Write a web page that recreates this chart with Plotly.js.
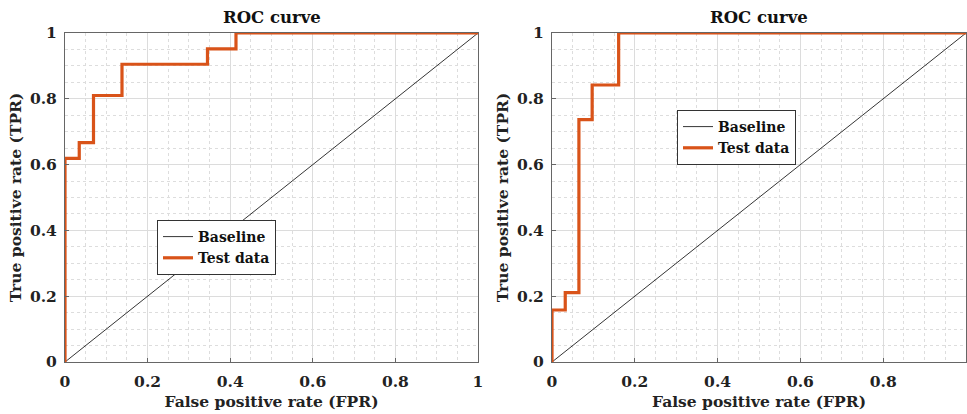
<!DOCTYPE html>
<html>
<head>
<meta charset="utf-8">
<script src="https://cdn.plot.ly/plotly-3.0.1.min.js"></script>
<style>html,body{margin:0;padding:0;background:#fff;}#chart{width:967px;height:414px;}</style>
</head>
<body>
<div id="chart"></div>
<script>
// Baseline (chance line)
const baselineX = [0, 1];
const baselineY = [0, 1];

// Left panel ROC (FPR, TPR) step vertices
const leftFPR = [0, 0, 0.0345, 0.0345, 0.069, 0.069, 0.138, 0.138, 0.345, 0.345, 0.414, 0.414, 1];
const leftTPR = [0, 0.619, 0.619, 0.667, 0.667, 0.810, 0.810, 0.905, 0.905, 0.952, 0.952, 1, 1];

// Right panel ROC (FPR, TPR) step vertices
const rightFPR = [0, 0, 0.032, 0.032, 0.065, 0.065, 0.097, 0.097, 0.161, 0.161, 1];
const rightTPR = [0, 0.158, 0.158, 0.211, 0.211, 0.737, 0.737, 0.842, 0.842, 1, 1];

const tickVals = [0, 0.2, 0.4, 0.6, 0.8, 1];
const tickText = ['0', '0.2', '0.4', '0.6', '0.8', '1'];

const FONT = 'DejaVu Serif';
const orange = '#D95319';

const traces = [
  {x: baselineX, y: baselineY, mode: 'lines', name: 'Baseline', line: {color: '#000', width: 0.8}, xaxis: 'x', yaxis: 'y', legend: 'legend'},
  {x: leftFPR, y: leftTPR, mode: 'lines', name: 'Test data', line: {color: orange, width: 3.2}, xaxis: 'x', yaxis: 'y', legend: 'legend'},
  {x: baselineX, y: baselineY, mode: 'lines', name: 'Baseline', line: {color: '#000', width: 0.8}, xaxis: 'x2', yaxis: 'y2', legend: 'legend2'},
  {x: rightFPR, y: rightTPR, mode: 'lines', name: 'Test data', line: {color: orange, width: 3.2}, xaxis: 'x2', yaxis: 'y2', legend: 'legend2'}
];

const W = 967, H = 414;
const yDom = [1 - 362/H, 1 - 33/H];

function xAx(dom) {
  return {
    domain: dom, range: [0, 1], tickvals: tickVals, ticktext: tickText,
    showline: true, mirror: true, linecolor: '#666', linewidth: 1,
    ticks: 'inside', ticklen: 4, tickcolor: '#666', ticklabelstandoff: 5,
    showgrid: true, gridcolor: '#dcdcdc', gridwidth: 1, zeroline: false,
    minor: {dtick: 0.05, showgrid: true, gridcolor: '#dddddd', griddash: 'dot', gridwidth: 1},
    tickfont: {family: FONT, size: 15.5, color: '#222', weight: 'bold'},
    title: {text: '<b>False positive rate (FPR)</b>', font: {family: FONT, size: 15.5, color: '#222'}, standoff: 6},
    fixedrange: true
  };
}
function yAx(dom, anchor) {
  return {
    domain: dom, range: [0, 1], tickvals: tickVals, ticktext: tickText, anchor: anchor,
    showline: true, mirror: true, linecolor: '#666', linewidth: 1,
    ticks: 'inside', ticklen: 4, tickcolor: '#666', ticklabelstandoff: 4,
    showgrid: true, gridcolor: '#dcdcdc', gridwidth: 1, zeroline: false,
    minor: {dtick: 0.05, showgrid: true, gridcolor: '#dddddd', griddash: 'dot', gridwidth: 1},
    tickfont: {family: FONT, size: 15.5, color: '#222', weight: 'bold'},
    title: {text: '<b>True positive rate (TPR)</b>', font: {family: FONT, size: 15.5, color: '#222'}, standoff: 4},
    fixedrange: true
  };
}

const legendStyle = {
  bgcolor: '#fff', bordercolor: '#333', borderwidth: 1,
  font: {family: FONT, size: 14, color: '#111', weight: 'bold'},
  xref: 'paper', yref: 'paper', xanchor: 'left', yanchor: 'top',
  tracegroupgap: 0, itemwidth: 30
};

const layout = {
  width: W, height: H,
  margin: {l: 0, r: 0, t: 0, b: 0},
  paper_bgcolor: '#fff', plot_bgcolor: '#fff',
  showlegend: true,
  xaxis: Object.assign(xAx([65/W, 478/W]), {anchor: 'y'}),
  yaxis: yAx(yDom, 'x'),
  xaxis2: Object.assign(xAx([552/W, 966/W]), {anchor: 'y2'}),
  yaxis2: yAx(yDom, 'x2'),
  legend: Object.assign({}, legendStyle, {x: 157/W, y: 1 - 220/H}),
  legend2: Object.assign({}, legendStyle, {x: 677/W, y: 1 - 110/H}),
  annotations: [
    {text: '<b>ROC curve</b>', xref: 'paper', yref: 'paper', x: 271.5/W, y: 1 - 18/H, xanchor: 'center', yanchor: 'middle', showarrow: false, font: {family: FONT, size: 16.5, color: '#111'}},
    {text: '<b>ROC curve</b>', xref: 'paper', yref: 'paper', x: 759/W, y: 1 - 18/H, xanchor: 'center', yanchor: 'middle', showarrow: false, font: {family: FONT, size: 16.5, color: '#111'}}
  ]
};

Plotly.newPlot('chart', traces, layout, {displayModeBar: false, staticPlot: true});
</script>
</body>
</html>
